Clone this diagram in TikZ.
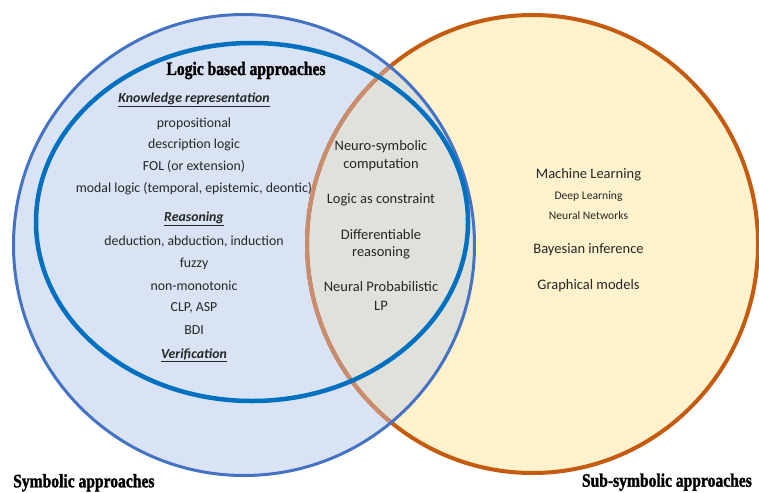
\documentclass[tikz,border=0pt]{standalone}
\usepackage{fontspec}
\setmainfont{Carlito}
\newfontfamily\titlefont[FakeStretch=0.82, BoldFeatures={FakeBold=1.6}]{Liberation Serif}
\definecolor{bluefill}{HTML}{DAE3F3}
\definecolor{yellowfill}{HTML}{FFF2CC}
\definecolor{interfill}{HTML}{DFE1DA}
\definecolor{orangeline}{HTML}{C55A11}
\definecolor{brownline}{HTML}{C98C6E}
\definecolor{blueline}{HTML}{4472C4}
\definecolor{innerline}{HTML}{0070C0}
\tikzset{
  lbl/.style={anchor=base, inner sep=0pt, text=black!85, font=\fontsize{13.8}{16}\selectfont},
  mlbl/.style={anchor=base, inner sep=0pt, text=black!85, font=\fontsize{14.5}{17}\selectfont},
  slbl/.style={anchor=base, inner sep=0pt, text=black!85, font=\fontsize{11.6}{14}\selectfont},
  head/.style={anchor=base, inner sep=0pt, text=black!85, font=\fontsize{13.8}{16}\selectfont\bfseries\itshape},
  ttl/.style={inner sep=0pt, text=black, font=\fontsize{19}{22}\selectfont\titlefont\bfseries},
}
\newcommand{\hd}[1]{\underline{#1}}
\begin{document}
\begin{tikzpicture}[x=1pt,y=-1pt]
\useasboundingbox (0,0) rectangle (759,492);
% fills
\fill[yellowfill] (532.5,244) ellipse [x radius=225.5pt, y radius=229pt];
\fill[bluefill] (244,245) circle [radius=230.5pt];
\begin{scope}
  \clip (244,245) circle [radius=230.5pt];
  \fill[interfill] (532.5,244) ellipse [x radius=225.5pt, y radius=229pt];
\end{scope}
% orange border
\draw[orangeline, line width=4pt] (532.5,244) ellipse [x radius=225.5pt, y radius=229pt];
\begin{scope}
  \clip (244,245) circle [radius=230.5pt];
  \draw[brownline, line width=4pt] (532.5,244) ellipse [x radius=225.5pt, y radius=229pt];
\end{scope}
% blue outer
\draw[blueline, line width=3pt] (244,245) circle [radius=230.5pt];
% inner ellipse
\draw[innerline, line width=4.5pt] (252,222) ellipse [x radius=216pt, y radius=179pt];

% titles
\node[ttl, anchor=base] (logic) at (246,75) {Logic based approaches};
\node[ttl, anchor=base west] (sym) at (13,487.3) {Symbolic approaches};
\node[ttl, anchor=base east] (subsym) at (752,486.7) {Sub-symbolic approaches};

% left column
\node[head] (kr) at (194,102.3) {\hd{Knowledge representation}};
\node[lbl] (l1) at (194,127) {propositional};
\node[lbl] (l2) at (194,148.6) {description logic};
\node[lbl] (l3) at (194,170.6) {FOL (or extension)};
\node[lbl] (l4) at (194,192.7) {modal logic (temporal, epistemic, deontic)};
\node[head] (rs) at (194,221.7) {\hd{Reasoning}};
\node[lbl] (r1) at (194,245.7) {deduction, abduction, induction};
\node[lbl] (r2) at (194,267.7) {fuzzy};
\node[lbl] (r3) at (194,290) {non-monotonic};
\node[lbl] (r4) at (194,311.7) {CLP, ASP};
\node[lbl] (r5) at (194,334.3) {BDI};
\node[head] (vf) at (194,358.3) {\hd{Verification}};

% middle
\node[mlbl] (m1a) at (381,150) {Neuro-symbolic};
\node[mlbl] (m1b) at (381,168.3) {computation};
\node[mlbl] (m2) at (381,203.3) {Logic as constraint};
\node[mlbl] (m3a) at (381,239.3) {Differentiable};
\node[mlbl] (m3b) at (381,256.7) {reasoning};
\node[mlbl] (m4a) at (381,291.7) {Neural Probabilistic};
\node[mlbl] (m4b) at (381,310) {LP};

% right
\node[mlbl] (ml) at (588.5,178.3) {Machine Learning};
\node[slbl] (dl) at (588.5,199.3) {Deep Learning};
\node[slbl] (nn) at (588.5,219.3) {Neural Networks};
\node[mlbl] (bi) at (588.5,253.3) {Bayesian inference};
\node[mlbl] (gm) at (588.5,289) {Graphical models};
\end{tikzpicture}
\end{document}
